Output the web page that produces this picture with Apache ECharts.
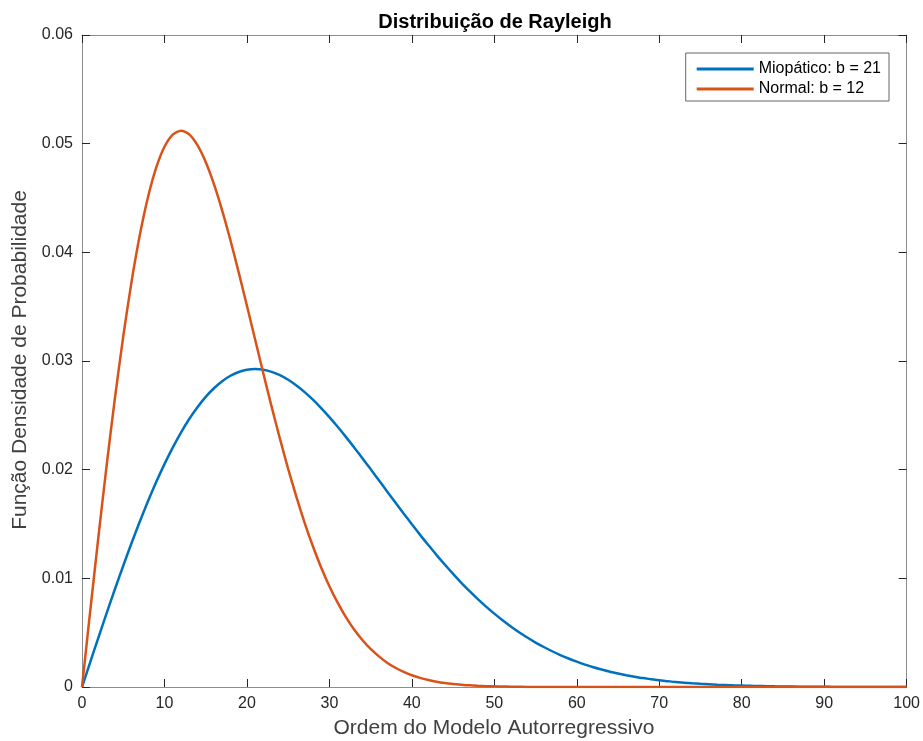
<!DOCTYPE html>
<html>
<head>
<meta charset="utf-8">
<script src="https://cdn.jsdelivr.net/npm/echarts@6/dist/echarts.min.js"></script>
<style>
  html, body { margin: 0; padding: 0; background: #fff; }
  #chart { width: 923px; height: 741px; }
</style>
</head>
<body>
<div id="chart"></div>
<script>
// valores, passo 1 no eixo x (0..100)
const ordem = Array.from({ length: 101 }, (_, i) => i)

const miopatico = [
  0, 0.00229, 0.00457, 0.00682, 0.00902, 0.01116, 0.01323, 0.01521, 0.01709, 0.01886,
  0.02051, 0.02203, 0.02341, 0.02466, 0.02575, 0.02670, 0.02749, 0.02814, 0.02864, 0.02899,
  0.02919, 0.02926, 0.02919, 0.02900, 0.02869, 0.02827, 0.02775, 0.02714, 0.02644, 0.02567,
  0.02484, 0.02395, 0.02302, 0.02205, 0.02106, 0.02005, 0.01903, 0.01800, 0.01698, 0.01597,
  0.01498, 0.01400, 0.01306, 0.01214, 0.01126, 0.01041, 0.00959, 0.00882, 0.00809, 0.00740,
  0.00675, 0.00614, 0.00557, 0.00504, 0.00455, 0.00409, 0.00368, 0.00329, 0.00294, 0.00262,
  0.00233, 0.00206, 0.00182, 0.00161, 0.00141, 0.00124, 0.00109, 0.00095, 0.00082, 0.00072,
  0.00062, 0.00054, 0.00046, 0.00040, 0.00034, 0.00029, 0.00025, 0.00021, 0.00018, 0.00015,
  0.00013, 0.00011, 0.00009, 0.00008, 0.00006, 0.00005, 0.00004, 0.00003, 0.00003, 0.00002,
  0.00002, 0.00001, 0.00001, 0.00001, 0.00001, 0.00001, 0, 0, 0, 0,
  0
]

const normal = [
  0, 0.00701, 0.01388, 0.02046, 0.02662, 0.03225, 0.03725, 0.04154, 0.04507, 0.04779,
  0.04971, 0.05084, 0.05120, 0.05086, 0.04986, 0.04831, 0.04627, 0.04384, 0.04111, 0.03816,
  0.03509, 0.03195, 0.02882, 0.02578, 0.02285, 0.02008, 0.01749, 0.01511, 0.01295, 0.01100,
  0.00927, 0.00776, 0.00643, 0.00529, 0.00433, 0.00350, 0.00282, 0.00224, 0.00177, 0.00139,
  0.00108, 0.00084, 0.00065, 0.00049, 0.00037, 0.00028, 0.00021, 0.00015, 0.00011, 0.00008,
  0.00006, 0.00004, 0.00003, 0.00002, 0.00001, 0.00001, 0, 0, 0, 0,
  0, 0, 0, 0, 0, 0, 0, 0, 0, 0,
  0, 0, 0, 0, 0, 0, 0, 0, 0, 0,
  0, 0, 0, 0, 0, 0, 0, 0, 0, 0,
  0, 0, 0, 0, 0, 0, 0, 0, 0, 0,
  0
]

const nomes = ['Miopático: b = 21', 'Normal: b = 12']
const cores = ['#0072BD', '#D95319']

const fonte = "'Liberation Sans', Arial, Helvetica, sans-serif"

const pares = (ys) => ordem.map((x, i) => [x, ys[i]])

const eixoX = (pos, show) => ({
  type: 'value',
  position: pos,
  min: 0,
  max: 100,
  interval: 10,
  axisLine: { show: true, onZero: false, lineStyle: { color: '#8c8c8c', width: 1 } },
  axisTick: { show: true, inside: true, length: 8, lineStyle: { color: '#262626' } },
  axisLabel: { show: show, color: '#262626', fontSize: 16, fontFamily: fonte, margin: 9 },
  splitLine: { show: false }
})

const eixoY = (pos, show) => ({
  type: 'value',
  position: pos,
  min: 0,
  max: 0.06,
  interval: 0.01,
  axisLine: { show: true, onZero: false, lineStyle: { color: '#8c8c8c', width: 1 } },
  axisTick: { show: true, inside: true, length: 8, lineStyle: { color: '#262626' } },
  axisLabel: { show: show, color: '#262626', fontSize: 16, fontFamily: fonte, margin: 9 },
  splitLine: { show: false }
})

const option = {
  backgroundColor: '#ffffff',
  animation: false,
  title: {
    text: 'Distribuição de Rayleigh',
    left: 490,
    top: 7,
    textAlign: 'center',
    textStyle: { fontSize: 20, fontWeight: 'bold', color: '#000', fontFamily: fonte }
  },
  grid: { left: 82, right: 16, top: 35, bottom: 54, containLabel: false },
  legend: {
    data: nomes,
    orient: 'vertical',
    right: 34,
    top: 53,
    padding: [8, 8, 4, 11],
    itemGap: 4,
    itemWidth: 57,
    itemHeight: 3,
    icon: 'rect',
    borderColor: '#666',
    borderWidth: 1,
    borderRadius: 0,
    backgroundColor: '#fff',
    textStyle: { fontSize: 16, color: '#000', fontFamily: fonte }
  },
  xAxis: [eixoX('bottom', true), eixoX('top', false)],
  yAxis: [eixoY('left', true), eixoY('right', false)],
  graphic: [
    {
      type: 'text',
      x: 494,
      y: 728,
      style: {
        text: 'Ordem do Modelo Autorregressivo',
        fill: '#404040',
        font: '21px ' + fonte,
        textAlign: 'center',
        textVerticalAlign: 'middle'
      }
    },
    {
      type: 'text',
      rotation: Math.PI / 2,
      x: 20,
      y: 360,
      style: {
        text: 'Função Densidade de Probabilidade',
        fill: '#404040',
        font: '21px ' + fonte,
        textAlign: 'center',
        textVerticalAlign: 'middle'
      }
    }
  ],
  series: [
    {
      name: nomes[0],
      type: 'line',
      data: pares(miopatico),
      xAxisIndex: 0,
      yAxisIndex: 0,
      showSymbol: false,
      symbol: 'none',
      smooth: 0.25,
      color: cores[0],
      lineStyle: { color: cores[0], width: 2.5 }
    },
    {
      name: nomes[1],
      type: 'line',
      data: pares(normal),
      xAxisIndex: 0,
      yAxisIndex: 0,
      showSymbol: false,
      symbol: 'none',
      smooth: 0.25,
      color: cores[1],
      lineStyle: { color: cores[1], width: 2.5 }
    }
  ]
}

const mychart = echarts.init(document.getElementById('chart'))
mychart.setOption(option)
</script>
</body>
</html>
